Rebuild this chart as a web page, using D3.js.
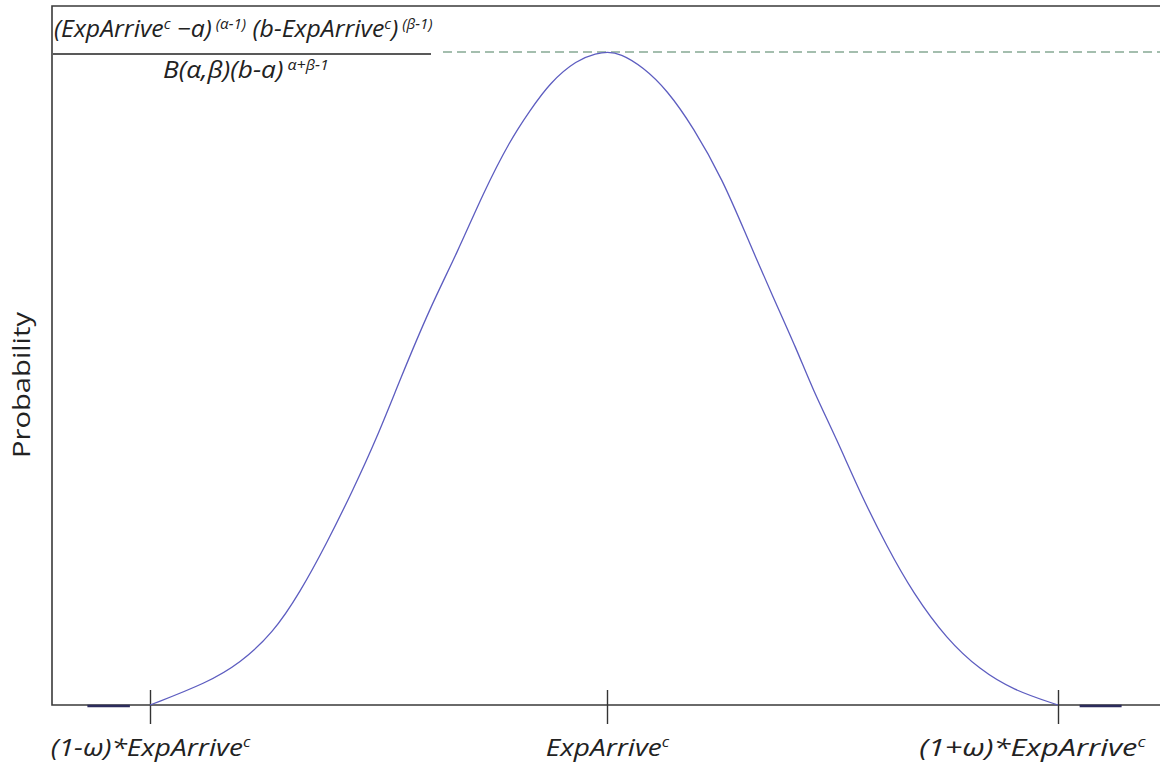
<!DOCTYPE html>
<html>
<head>
<meta charset="utf-8">
<script src="https://cdn.jsdelivr.net/npm/d3@7"></script>
<style>
  body { margin: 0; background: #fff; }
  svg { display: block; }
</style>
</head>
<body>
<div id="chart"></div>
<script>
// x in units of the window: -1 = (1-ω)*ExpArrive, 0 = ExpArrive, 1 = (1+ω)*ExpArrive
xVals = [-1, -0.875, -0.803, -0.731, -0.672, -0.613, -0.556, -0.503, -0.453, -0.387, -0.328, -0.271, -0.212, -0.168, -0.125, -0.066, -0.022, 0,
    0.029, 0.080, 0.133, 0.191, 0.257, 0.310, 0.368, 0.421, 0.455, 0.510, 0.561, 0.621, 0.678, 0.754, 0.827, 0.900, 1];
// probability relative to the peak
probVals = [0, 0.034, 0.064, 0.110, 0.172, 0.248, 0.329, 0.410, 0.498, 0.609, 0.692, 0.784, 0.865, 0.911, 0.953, 0.988, 0.998, 1,
    0.998, 0.977, 0.942, 0.885, 0.804, 0.717, 0.625, 0.544, 0.485, 0.406, 0.325, 0.242, 0.172, 0.100, 0.054, 0.023, 0];
// zero-probability stretches outside the window
zeroStart = [-1.137, 1.048];
zeroEnd = [-1.044, 1.141];
tickValues = [-1, 0, 1];
tickLabels = ["(1-ω)*ExpArrive", "ExpArrive", "(1+ω)*ExpArrive"];
peakProb = 1;

const width = 1160, height = 765;
const margins = { top: 6, left: 52, bottom: 705 };

var svg = d3.select("#chart")
    .append("svg")
    .attr("width", width)
    .attr("height", height);

var x = d3.scaleLinear()
    .domain([-1, 0, 1])
    .range([150, 607, 1058]);
var y = d3.scaleLinear()
    .domain([0, 1])
    .range([705, 52]);

// peak marker line
svg.append("line")
    .attr("x1", 443).attr("x2", width)
    .attr("y1", y(peakProb)).attr("y2", y(peakProb))
    .attr("stroke", "#86a994")
    .attr("stroke-width", 1.6)
    .attr("stroke-dasharray", "9,5");

// frame
svg.append("path")
    .attr("d", `M${width},${margins.top}H${margins.left}V${margins.bottom}H${width}`)
    .attr("fill", "none")
    .attr("stroke", "#3a3a3a")
    .attr("stroke-width", 1.6);

// x axis ticks
var gx = svg.append("g")
    .attr("transform", `translate(0,${margins.bottom})`)
    .call(d3.axisBottom(x).tickValues(tickValues).tickSize(0).tickFormat(""))
    .call(g => g.select(".domain").remove());

gx.selectAll(".tick line")
    .attr("y1", -15)
    .attr("y2", 19)
    .attr("stroke", "#333")
    .attr("stroke-width", 1.4);

gx.selectAll(".tick text")
    .attr("y", 51)
    .attr("dy", 0)
    .attr("fill", "#222")
    .style("font", "italic 24px 'Open Sans'")
    .each(function (d, i) {
        var t = d3.select(this);
        t.text(null);
        if (i == tickLabels.length - 1) {
            // last label is pulled in so it stays inside the page
            t.attr("text-anchor", "end").attr("x", 87 / 1.28)
                .attr("transform", "scale(1.28,1)");
        } else {
            t.attr("transform", "scale(1.17,1)");
        }
        t.append("tspan").text(tickLabels[i]);
        t.append("tspan").attr("dy", -9).style("font-size", "14px").text("c");
    });

// zero stretches
svg.selectAll(".zero")
    .data(zeroStart)
    .join("line")
    .attr("class", "zero")
    .attr("x1", d => x(d))
    .attr("x2", (d, i) => x(zeroEnd[i]))
    .attr("y1", y(0) + 1).attr("y2", y(0) + 1)
    .attr("stroke", "#2c2c5c")
    .attr("stroke-width", 2.5);

// density curve
var line = d3.line()
    .x(d => x(d[0]))
    .y(d => y(d[1]))
    .curve(d3.curveBasis);

svg.append("path")
    .datum(d3.zip(xVals, probVals))
    .attr("d", line)
    .attr("fill", "none")
    .attr("stroke", "#5d5dc0")
    .attr("stroke-width", 1.3);

// y label
svg.append("text")
    .attr("transform", "translate(30,385) rotate(-90)")
    .attr("text-anchor", "middle")
    .attr("fill", "#222")
    .attr("textLength", 146)
    .attr("lengthAdjust", "spacingAndGlyphs")
    .style("font", "23px 'Open Sans'")
    .text("Probability");

// formula for the peak value
var f = svg.append("g")
    .style("font", "italic 23px 'Open Sans'")
    .attr("fill", "#222");

var l1 = f.append("text")
    .attr("transform", "translate(54,37) scale(1.08,1)");
[["(ExpArrive", 0, 23], ["c", -8, 14], [" −a)", 8, 23], [" (α-1)", -8, 14], [" (b-ExpArrive", 8, 23],
 ["c", -8, 14], [")", 8, 23], [" (β-1)", -8, 14]].forEach(p => {
    l1.append("tspan").attr("dy", p[1]).style("font-size", p[2] + "px").text(p[0]);
});

f.append("line")
    .attr("x1", 53).attr("x2", 431)
    .attr("y1", 54).attr("y2", 54)
    .attr("stroke", "#222")
    .attr("stroke-width", 1.5);

var l2 = f.append("text")
    .attr("transform", "translate(163,78) scale(1.14,1)");
[["B(α,β)(b-a)", 0, 23], [" α+β-1", -8, 14]].forEach(p => {
    l2.append("tspan").attr("dy", p[1]).style("font-size", p[2] + "px").text(p[0]);
});
</script>
</body>
</html>
